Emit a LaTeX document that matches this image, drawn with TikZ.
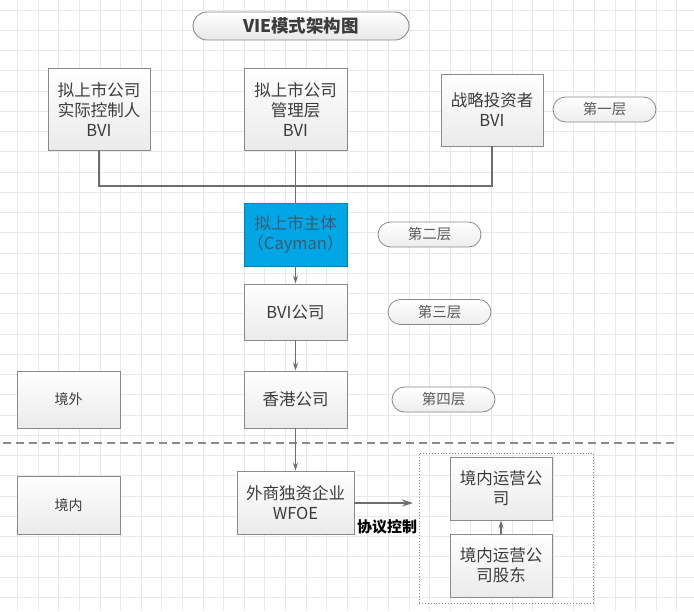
\documentclass[tikz,border=0pt]{standalone}
\usepackage{fontspec}
\newfontfamily\cjk{Noto Sans CJK SC}
\usetikzlibrary{arrows.meta,shadows}
\definecolor{edgegray}{HTML}{8A8A8A}
\definecolor{linegray}{HTML}{6E6E6E}
\definecolor{txtgray}{HTML}{3C3C3C}
\definecolor{gridgray}{HTML}{E9E9E9}
\definecolor{caycyan}{HTML}{00A6E6}
\definecolor{caytext}{HTML}{3B5C70}
\begin{document}
\begin{tikzpicture}[x=1pt,y=-1pt,
  box/.style={draw=edgegray, line width=0.9pt, top color=white, bottom color=gray!16,
    inner sep=0pt, align=center, text=txtgray,
    font=\cjk\fontsize{16.5}{20}\selectfont,
    drop shadow={shadow xshift=1pt, shadow yshift=-1pt, opacity=0.25, fill=gray}},
  pill/.style={draw=edgegray, line width=0.8pt, top color=white, bottom color=gray!14,
    rounded corners=12.5pt, minimum width=103pt, minimum height=25pt, inner sep=0pt,
    text=txtgray!85, font=\cjk\fontsize{14.5}{16}\selectfont},
  conn/.style={draw=linegray, line width=1.3pt},
  arr/.style={conn, -{Stealth[length=8pt,width=5pt]}},
  bigarr/.style={conn, -{Stealth[length=11pt,width=7pt]}}
]
\useasboundingbox[fill=white] (0,0) rectangle (694,611);
% grid
\foreach \k in {0,...,33} {\draw[gridgray, line width=0.6pt] ({-3.1+20.6*\k},0) -- ({-3.1+20.6*\k},611);}
\foreach \k in {0,...,30} {\draw[gridgray, line width=0.6pt] (0,{10+20.25*\k}) -- (694,{10+20.25*\k});}

% title
\node[draw=edgegray, line width=0.9pt, top color=white, bottom color=gray!18, rounded corners=14pt,
  minimum width=216pt, minimum height=28pt, inner sep=0pt, text=txtgray,
  font=\cjk\bfseries\fontsize{17.5}{19}\selectfont] (title) at (301,26) {VIE模式架构图};

% layer 1
\node[box, minimum width=102pt, minimum height=82pt] (b1) at (99,109) {拟上市公司\\实际控制人\\BVI};
\node[box, minimum width=103pt, minimum height=82pt] (b2) at (295.5,109) {拟上市公司\\管理层\\BVI};
\node[box, minimum width=102pt, minimum height=72pt] (b3) at (492,110) {战略投资者\\BVI};
\node[pill] (l1) at (604.5,109.5) {第一层};

% layer 2
\node[box, top color=caycyan, bottom color=caycyan, draw=caycyan!80!black, text=caytext,
  minimum width=103pt, minimum height=63pt] (cay) at (295.5,234.5) {拟上市主体\\（Cayman）};
\node[pill] (l2) at (429.5,234.5) {第二层};

% layer 3
\node[box, minimum width=103pt, minimum height=56pt] (bvi) at (295.5,312) {BVI公司};
\node[pill] (l3) at (439.5,312) {第三层};

% layer 4
\node[box, minimum width=103pt, minimum height=57pt] (hk) at (295.5,399.5) {香港公司};
\node[box, minimum width=103pt, minimum height=57pt, font=\cjk\fontsize{14}{16}\selectfont] (jw) at (68.5,399.5) {境外};
\node[pill] (l4) at (443.5,399.5) {第四层};

% divider
\coordinate (dl) at (3,443);
\coordinate (dr) at (676,443);
\draw[linegray!80, line width=1.2pt, dash pattern=on 8pt off 5pt] (dl) -- (dr);

% onshore
\node[box, minimum width=117pt, minimum height=63pt] (wfoe) at (295.5,502.5) {外商独资企业\\WFOE};
\node[box, minimum width=103pt, minimum height=58pt, font=\cjk\fontsize{14}{16}\selectfont] (jn) at (68.5,505) {境内};
\node[draw=edgegray, dotted, line width=0.9pt, minimum width=174pt, minimum height=150pt, inner sep=0pt] (grp) at (506,528) {};
\node[box, minimum width=102pt, minimum height=63pt] (op) at (501,488.5) {境内运营公\\司};
\node[box, minimum width=102pt, minimum height=63pt] (sh) at (501,565.5) {境内运营公\\司股东};

% connectors
\coordinate (j) at (295.5,186);
\draw[conn] (b1.south) |- (j) -| (b3.south);
\draw[conn] (b2.south) -- (cay.north);
\draw[arr] (cay.south) -- (bvi.north);
\draw[arr] (bvi.south) -- (hk.north);
\draw[arr] (hk.south) -- (wfoe.north);
\coordinate (ae) at (413,503);
\draw[bigarr] (wfoe.east |- ae) -- (ae);
\draw[arr] (sh.north) -- (op.south);
\node[font=\cjk\bfseries\fontsize{15}{17}\selectfont, text=black, inner sep=0pt] (lab) at (387,527) {协议控制};
\end{tikzpicture}
\end{document}
